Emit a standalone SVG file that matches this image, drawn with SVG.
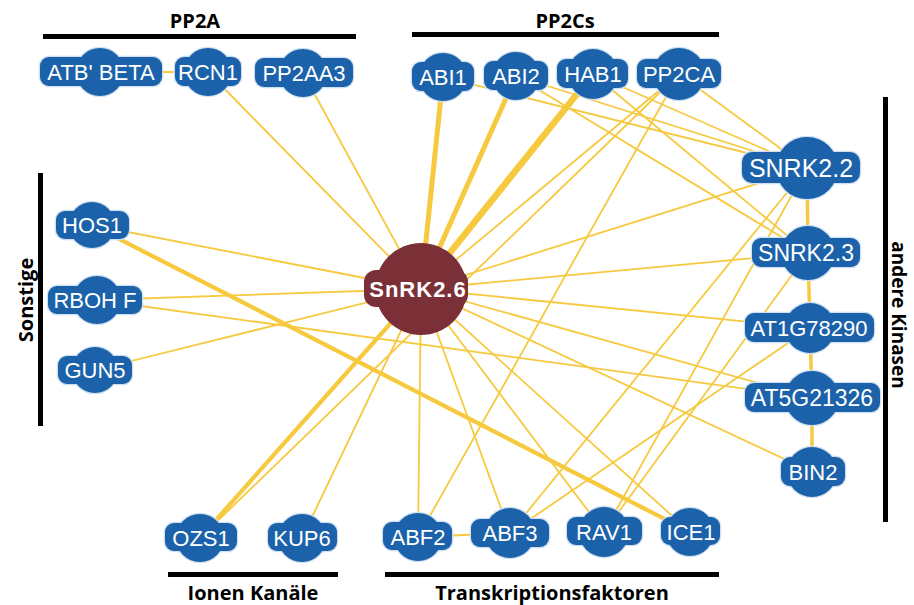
<svg xmlns="http://www.w3.org/2000/svg" width="914" height="605" viewBox="0 0 914 605">
<style>
.e{stroke:#f6c93f;fill:none;stroke-linecap:round;stroke-width:1.8}
.e3{stroke-width:3.5}
.e4{stroke-width:4.2}
.e5{stroke-width:5}
.e6{stroke-width:6.5}
.nb circle,.nb rect{fill:#1b62aa;stroke:#cfe0f2;stroke-width:2.5}
.nf circle,.nf rect{fill:#1b62aa;stroke:none}
.lbl{font-family:"Liberation Sans",Arial,sans-serif;font-size:22px;fill:#ffffff;text-anchor:middle}
.hub circle,.hub rect{fill:#7b3038}
.hubt{font-family:"Liberation Sans",Arial,sans-serif;font-weight:bold;font-size:22px;fill:#ffffff;text-anchor:middle;letter-spacing:1px}
.bar{fill:#000}
.ttl{font-family:"Open Sans","Liberation Sans",sans-serif;font-weight:bold;font-size:20px;fill:#000;text-anchor:middle}
</style>
<rect width="914" height="605" fill="#ffffff"/>
<g id="connectors">
<line class="e" x1="100" y1="72" x2="208" y2="72"/>
<line class="e" x1="421" y1="289" x2="208" y2="72"/>
<line class="e" x1="421" y1="289" x2="303" y2="73"/>
<line class="e e5" x1="421" y1="289" x2="443" y2="77"/>
<line class="e e5" x1="421" y1="289" x2="516" y2="76"/>
<line class="e e6" x1="421" y1="289" x2="593" y2="74"/>
<line class="e" x1="421" y1="289" x2="679" y2="74"/>
<line class="e" x1="421" y1="289" x2="807" y2="168"/>
<line class="e" x1="421" y1="289" x2="808" y2="253"/>
<line class="e" x1="421" y1="289" x2="810" y2="328"/>
<line class="e" x1="421" y1="289" x2="812" y2="398"/>
<line class="e" x1="421" y1="289" x2="812" y2="472"/>
<line class="e" x1="421" y1="289" x2="92" y2="225"/>
<line class="e" x1="421" y1="289" x2="97" y2="300"/>
<line class="e" x1="421" y1="289" x2="95" y2="370"/>
<line class="e e4" x1="421" y1="289" x2="200" y2="538"/>
<line class="e" x1="421" y1="289" x2="302" y2="538"/>
<line class="e" x1="421" y1="289" x2="418" y2="537"/>
<line class="e" x1="421" y1="289" x2="510" y2="533"/>
<line class="e" x1="421" y1="289" x2="604" y2="532"/>
<line class="e" x1="421" y1="289" x2="690" y2="532"/>
<line class="e e4" x1="92" y1="225" x2="690" y2="532"/>
<line class="e" x1="97" y1="300" x2="812" y2="398"/>
<line class="e" x1="200" y1="538" x2="679" y2="74"/>
<line class="e" x1="418" y1="537" x2="679" y2="74"/>
<line class="e" x1="418" y1="537" x2="510" y2="533"/>
<line class="e" x1="443" y1="77" x2="807" y2="168"/>
<line class="e" x1="516" y1="76" x2="807" y2="168"/>
<line class="e" x1="516" y1="76" x2="808" y2="253"/>
<line class="e" x1="593" y1="74" x2="807" y2="168"/>
<line class="e" x1="593" y1="74" x2="808" y2="253"/>
<line class="e" x1="679" y1="74" x2="807" y2="168"/>
<line class="e" x1="510" y1="533" x2="807" y2="168"/>
<line class="e" x1="604" y1="532" x2="807" y2="168"/>
<line class="e" x1="604" y1="532" x2="808" y2="253"/>
<line class="e" x1="510" y1="533" x2="810" y2="328"/>
<line class="e e3" x1="807" y1="168" x2="808" y2="253"/>
<line class="e e3" x1="808" y1="253" x2="810" y2="328"/>
<line class="e e3" x1="810" y1="328" x2="812" y2="398"/>
<line class="e e3" x1="812" y1="398" x2="812" y2="472"/>
</g>
<g id="bars">
<rect class="bar" x="43" y="34" width="313" height="5"/>
<text class="ttl" x="195" y="28">PP2A</text>
<rect class="bar" x="412" y="32" width="307" height="5"/>
<text class="ttl" x="565" y="28">PP2Cs</text>
<rect class="bar" x="883" y="97" width="5" height="425"/>
<text class="ttl" transform="translate(892,315) rotate(90)" style="font-size:19px">andere Kinasen</text>
<rect class="bar" x="38" y="173" width="5" height="253"/>
<text class="ttl" transform="translate(33,300) rotate(-90)">Sonstige</text>
<rect class="bar" x="168" y="572" width="170" height="5"/>
<text class="ttl" x="253" y="600">Ionen Kanäle</text>
<rect class="bar" x="385" y="572" width="334" height="5"/>
<text class="ttl" x="552" y="600">Transkriptionsfaktoren</text>
</g>
<g id="n-atb"><g class="nb"><circle cx="100" cy="72" r="24"/><rect x="40" y="57" width="122" height="29" rx="9"/></g><g class="nf"><circle cx="100" cy="72" r="24"/><rect x="40" y="57" width="122" height="29" rx="9"/></g><text class="lbl" x="101" y="80">ATB' BETA</text></g>
<g id="n-rcn1"><g class="nb"><circle cx="208" cy="72" r="24"/><rect x="175" y="57" width="66" height="29" rx="9"/></g><g class="nf"><circle cx="208" cy="72" r="24"/><rect x="175" y="57" width="66" height="29" rx="9"/></g><text class="lbl" x="208" y="80">RCN1</text></g>
<g id="n-pp2aa3"><g class="nb"><circle cx="303" cy="73" r="24"/><rect x="255" y="58" width="98" height="29" rx="9"/></g><g class="nf"><circle cx="303" cy="73" r="24"/><rect x="255" y="58" width="98" height="29" rx="9"/></g><text class="lbl" x="304" y="81">PP2AA3</text></g>
<g id="n-abi1"><g class="nb"><circle cx="443" cy="77" r="24"/><rect x="412" y="62" width="62" height="29" rx="9"/></g><g class="nf"><circle cx="443" cy="77" r="24"/><rect x="412" y="62" width="62" height="29" rx="9"/></g><text class="lbl" x="443" y="85">ABI1</text></g>
<g id="n-abi2"><g class="nb"><circle cx="516" cy="76" r="24"/><rect x="484" y="61" width="64" height="29" rx="9"/></g><g class="nf"><circle cx="516" cy="76" r="24"/><rect x="484" y="61" width="64" height="29" rx="9"/></g><text class="lbl" x="516" y="84">ABI2</text></g>
<g id="n-hab1"><g class="nb"><circle cx="593" cy="74" r="25"/><rect x="557" y="59" width="71" height="29" rx="9"/></g><g class="nf"><circle cx="593" cy="74" r="25"/><rect x="557" y="59" width="71" height="29" rx="9"/></g><text class="lbl" x="593" y="82">HAB1</text></g>
<g id="n-pp2ca"><g class="nb"><circle cx="679" cy="74" r="26"/><rect x="637" y="59" width="84" height="29" rx="9"/></g><g class="nf"><circle cx="679" cy="74" r="26"/><rect x="637" y="59" width="84" height="29" rx="9"/></g><text class="lbl" x="679" y="82">PP2CA</text></g>
<g id="n-snrk22"><g class="nb"><circle cx="807" cy="168" r="31"/><rect x="742" y="152" width="118" height="31" rx="10"/></g><g class="nf"><circle cx="807" cy="168" r="31"/><rect x="742" y="152" width="118" height="31" rx="10"/></g><text class="lbl" x="801" y="177" style="font-size:25px">SNRK2.2</text></g>
<g id="n-snrk23"><g class="nb"><circle cx="808" cy="253" r="27"/><rect x="752" y="238" width="108" height="29" rx="9"/></g><g class="nf"><circle cx="808" cy="253" r="27"/><rect x="752" y="238" width="108" height="29" rx="9"/></g><text class="lbl" x="806" y="261" style="font-size:23px">SNRK2.3</text></g>
<g id="n-at1g"><g class="nb"><circle cx="810" cy="328" r="25"/><rect x="745" y="313" width="129" height="29" rx="9"/></g><g class="nf"><circle cx="810" cy="328" r="25"/><rect x="745" y="313" width="129" height="29" rx="9"/></g><text class="lbl" x="809" y="336">AT1G78290</text></g>
<g id="n-at5g"><g class="nb"><circle cx="812" cy="398" r="27"/><rect x="745" y="383" width="135" height="29" rx="9"/></g><g class="nf"><circle cx="812" cy="398" r="27"/><rect x="745" y="383" width="135" height="29" rx="9"/></g><text class="lbl" x="812" y="406" style="font-size:23px">AT5G21326</text></g>
<g id="n-bin2"><g class="nb"><circle cx="812" cy="472" r="25"/><rect x="781" y="457" width="64" height="29" rx="9"/></g><g class="nf"><circle cx="812" cy="472" r="25"/><rect x="781" y="457" width="64" height="29" rx="9"/></g><text class="lbl" x="813" y="480">BIN2</text></g>
<g id="n-hos1"><g class="nb"><circle cx="92" cy="225" r="23"/><rect x="56" y="211" width="73" height="28" rx="9"/></g><g class="nf"><circle cx="92" cy="225" r="23"/><rect x="56" y="211" width="73" height="28" rx="9"/></g><text class="lbl" x="92" y="233">HOS1</text></g>
<g id="n-rbohf"><g class="nb"><circle cx="97" cy="300" r="24"/><rect x="48" y="286" width="94" height="28" rx="9"/></g><g class="nf"><circle cx="97" cy="300" r="24"/><rect x="48" y="286" width="94" height="28" rx="9"/></g><text class="lbl" x="95" y="308">RBOH F</text></g>
<g id="n-gun5"><g class="nb"><circle cx="95" cy="370" r="23"/><rect x="58" y="356" width="74" height="28" rx="9"/></g><g class="nf"><circle cx="95" cy="370" r="23"/><rect x="58" y="356" width="74" height="28" rx="9"/></g><text class="lbl" x="95" y="378">GUN5</text></g>
<g id="n-ozs1"><g class="nb"><circle cx="200" cy="538" r="24"/><rect x="165" y="523" width="72" height="28" rx="9"/></g><g class="nf"><circle cx="200" cy="538" r="24"/><rect x="165" y="523" width="72" height="28" rx="9"/></g><text class="lbl" x="201" y="546">OZS1</text></g>
<g id="n-kup6"><g class="nb"><circle cx="302" cy="538" r="24"/><rect x="268" y="523" width="69" height="28" rx="9"/></g><g class="nf"><circle cx="302" cy="538" r="24"/><rect x="268" y="523" width="69" height="28" rx="9"/></g><text class="lbl" x="302" y="546">KUP6</text></g>
<g id="n-abf2"><g class="nb"><circle cx="418" cy="537" r="24"/><rect x="383" y="522" width="69" height="28" rx="9"/></g><g class="nf"><circle cx="418" cy="537" r="24"/><rect x="383" y="522" width="69" height="28" rx="9"/></g><text class="lbl" x="418" y="545">ABF2</text></g>
<g id="n-abf3"><g class="nb"><circle cx="510" cy="533" r="25"/><rect x="471" y="519" width="78" height="28" rx="9"/></g><g class="nf"><circle cx="510" cy="533" r="25"/><rect x="471" y="519" width="78" height="28" rx="9"/></g><text class="lbl" x="510" y="541">ABF3</text></g>
<g id="n-rav1"><g class="nb"><circle cx="604" cy="532" r="25"/><rect x="567" y="517" width="75" height="28" rx="9"/></g><g class="nf"><circle cx="604" cy="532" r="25"/><rect x="567" y="517" width="75" height="28" rx="9"/></g><text class="lbl" x="604" y="540">RAV1</text></g>
<g id="n-ice1"><g class="nb"><circle cx="690" cy="532" r="24"/><rect x="661" y="517" width="59" height="28" rx="9"/></g><g class="nf"><circle cx="690" cy="532" r="24"/><rect x="661" y="517" width="59" height="28" rx="9"/></g><text class="lbl" x="691" y="540">ICE1</text></g>
<g id="n-snrk26" class="hub"><circle cx="421" cy="289" r="46"/><rect x="364" y="270" width="104" height="37" rx="12"/><text class="hubt" x="418" y="297">SnRK2.6</text></g>
</svg>
